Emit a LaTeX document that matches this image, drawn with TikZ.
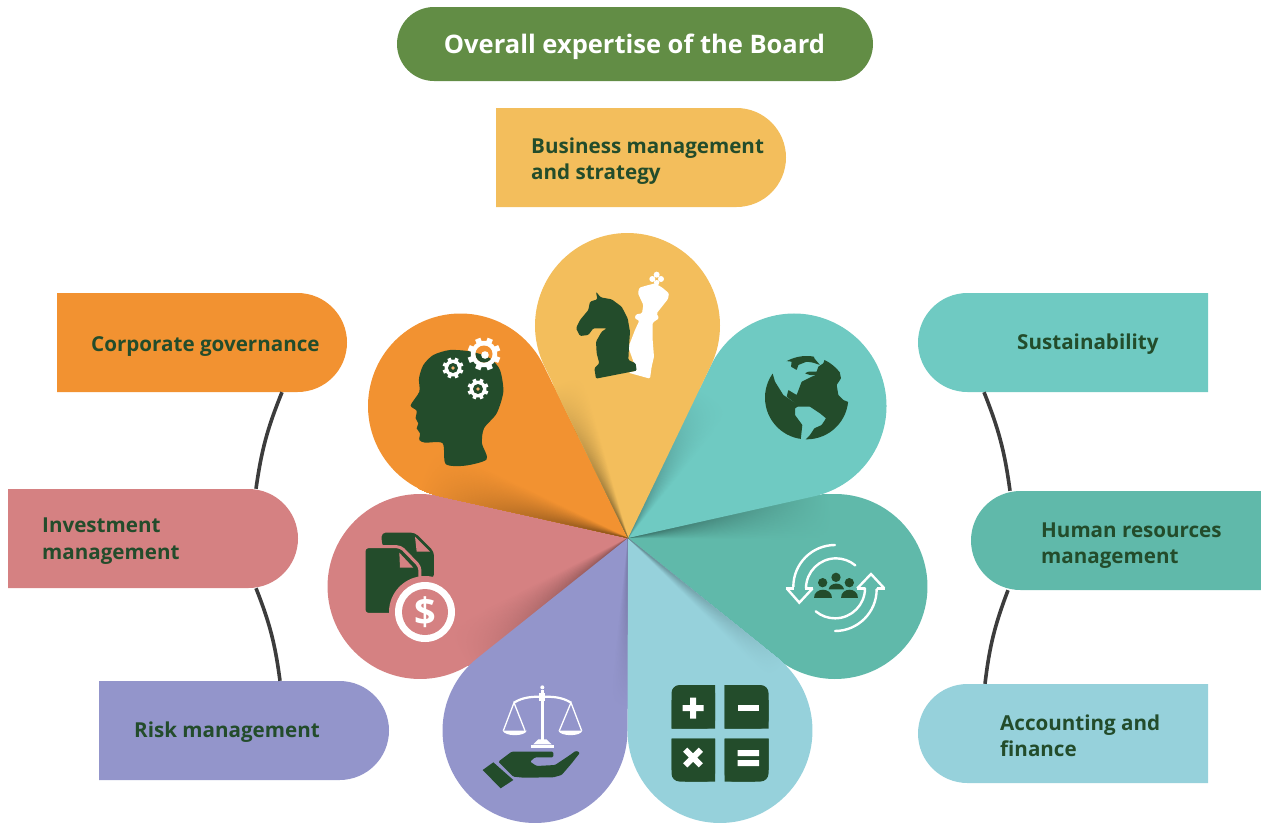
\documentclass[tikz,border=0pt]{standalone}
\usepackage{fontspec}
\setmainfont{Open Sans}
\usetikzlibrary{calc,shapes.misc}
\definecolor{cgreen}{HTML}{628D45}
\definecolor{cdark}{HTML}{234C2B}
\definecolor{corange}{HTML}{F29231}
\definecolor{cyellow}{HTML}{F3BE5C}
\definecolor{cteal}{HTML}{6FCAC2}
\definecolor{cdteal}{HTML}{60B9AA}
\definecolor{cblue}{HTML}{96D1DB}
\definecolor{cpurple}{HTML}{9395CB}
\definecolor{cpink}{HTML}{D58182}
\definecolor{cline}{HTML}{3C3C3C}
\tikzset{
  boxbase/.style={rounded rectangle,minimum width=290pt,minimum height=99pt,inner sep=0pt,draw=none},
  boxR/.style={boxbase,rounded rectangle west arc=none},
  boxL/.style={boxbase,rounded rectangle east arc=none},
  lab/.style={anchor=west,align=left,text=cdark,inner sep=0pt,font=\fontsize{20.6}{26.3}\selectfont\bfseries},
  conn/.style={draw=cline,line width=3.6pt},
  icon/.style 2 args={shift={(#1,#2)},x=0.3333pt,y=-0.3333pt},
  dk/.style={fill=cdark,rounded corners=1.2pt},
  dkg/.style={fill=cdark,rounded corners=0.5pt},
  wh/.style={fill=white,rounded corners=1.2pt},
}
% #1,#2 circle centre; #3 colour; #4 shadow angle; #5 shadow length; #6 darkness
\newcommand\petal[6]{%
  \pgfmathsetmacro\pa{atan2(#2-538,#1-628)}%
  \pgfmathsetmacro\pd{veclen(#1-628,#2-538)}%
  \pgfmathsetmacro\pb{asin(92.5/\pd)}%
  \pgfmathsetmacro\pl{\pd*cos(\pb)}%
  \pgfmathsetmacro\pe{\pa-\pb}%
  \pgfmathsetmacro\pf{\pa+\pb}%
  \fill[#3] (apex) -- ++(\pe:\pl) arc[start angle=\pe-90,end angle=\pf+90,radius=92.5] -- cycle;
  \begin{scope}
    \clip (apex) -- ++(\pe:\pl) arc[start angle=\pe-90,end angle=\pf+90,radius=92.5] -- cycle;
    \foreach \k in {20,19,...,1}{%
      \pgfmathsetmacro\ww{\pe+#4*\k/20}%
      \pgfmathsetmacro\mm{#6*(1-(\k-1)/20)}%
      \begin{scope}
        \clip (apex) -- ($(apex)+(\pe-1:500)$) -- ($(apex)+(\ww:500)$) -- cycle;
        \shade[inner color=black!\mm!#3,outer color=#3] (apex) circle[radius=#5];
      \end{scope}
    }
  \end{scope}
}
\newcommand\gearshape[3]{%
  \foreach \g in {0,45,...,315}{\fill[white,shift={(#1,#2)},rotate=\g+22.5] (-#3*0.17,0) rectangle (#3*0.17,#3);}
  \fill[white] (#1,#2) circle[radius=#3*0.8];
}
\begin{document}
\begin{tikzpicture}[x=1pt,y=-1pt]
\useasboundingbox (0,0) rectangle (1261,823);
\coordinate (apex) at (628,538);
% petals
\petal{420}{586.5}{cpink}{12}{205}{35}
\petal{835}{586.5}{cdteal}{13}{205}{40}
\petal{535}{730.5}{cpurple}{6}{170}{22}
\petal{720}{730.5}{cblue}{6}{200}{35}
\petal{460.5}{406}{corange}{13}{215}{45}
\petal{794}{406}{cteal}{13}{165}{30}
\petal{627.5}{325.5}{cyellow}{10}{170}{45}
% boxes
\node[boxbase,minimum width=476pt,minimum height=74pt,fill=cgreen] (board) at (635,44) {};
\node[boxR,fill=cyellow] (bizbox) at (641,157.5) {};
\node[boxR,fill=corange] (corpbox) at (202,342.5) {};
\node[boxR,fill=cpink] (invbox) at (153,538.5) {};
\node[boxR,fill=cpurple] (riskbox) at (244,730.5) {};
\node[boxL,fill=cteal] (susbox) at (1063,342.5) {};
\node[boxL,fill=cdteal] (hrbox) at (1116,540.5) {};
\node[boxL,fill=cblue] (accbox) at (1063,733.5) {};
% labels
\node[anchor=center,text=white,inner sep=0pt,font=\fontsize{25.5}{30}\selectfont\bfseries] (boardt) at (634.5,47) {Overall expertise of the Board};
\node[lab] (bizt) at (531,161) {Business management\\and strategy};
\node[lab] (corpt) at (91,347) {Corporate governance};
\node[lab] (invt) at (42,541) {Investment\\management};
\node[lab] (riskt) at (134,732) {Risk management};
\node[lab] (sust) at (1017,344) {Sustainability};
\node[lab] (hrt) at (1041,545.5) {Human resources\\management};
\node[lab] (acct) at (1000,735.5) {Accounting and\\finance};
% connectors
\draw[conn] ($(corpbox.south)+(80,0)$) to[bend right=7] ($(invbox.north)+(103,0)$);
\draw[conn] ($(invbox.south)+(103,0)$) to[bend left=7] ($(riskbox.north)+(36,0)$);
\draw[conn] ($(susbox.south)+(-79,0)$) to[bend left=7] ($(hrbox.north)+(-106,0)$);
\draw[conn] ($(hrbox.south)+(-108,0)$) to[bend right=7] ($(accbox.north)+(-78,0)$);
% head icon
\begin{scope}[icon={400}{320}]
  \fill[cdark] plot[smooth cycle,tension=0.45] coordinates {(137,432)(195,437)(260,418)(246,370)(252,325)(290,280)(310,215)(300,150)(270,115)(215,95)(150,90)(100,105)(70,135)(57,175)(58,215)(32,256)(50,272)(47,295)(55,310)(50,325)(60,340)(58,360)(75,368)(128,370)};
\end{scope}
\gearshape{484}{354}{16.5}
\fill[corange] (484,354) circle[radius=8.5];
\begin{scope}
  \clip[icon={400}{320}] plot[smooth cycle,tension=0.45] coordinates {(137,432)(195,437)(260,418)(246,370)(252,325)(290,280)(310,215)(300,150)(270,115)(215,95)(150,90)(100,105)(70,135)(57,175)(58,215)(32,256)(50,272)(47,295)(55,310)(50,325)(60,340)(58,360)(75,368)(128,370)};
  \fill[cdark] (484,354) circle[radius=8.5];
\end{scope}
\fill[white] (485,355) circle[radius=3.8];
\gearshape{453}{368}{10.5}
\fill[cdark] (453,368) circle[radius=5];
\fill[corange!70!white] (453,368) circle[radius=1.8];
\gearshape{478}{389}{10.5}
\fill[cdark] (478,389) circle[radius=5];
\fill[corange!70!white] (478,389) circle[radius=1.8];
% chess
\begin{scope}[icon={560}{260}]
  \fill[wh] (270,356) -- (205,338) -- (230,332) -- (205,262) -- (225,210) -- (238,182) -- (224,175) -- (228,163) -- (246,160) -- (250,135) -- (234,100) -- (238,83) -- (262,76) -- (285,70) -- (307,83) -- (327,100) -- (324,117) -- (290,160) -- (297,175) -- (278,188) -- (278,240) -- (282,290) -- (275,320) -- cycle;
  \fill[white] (290,44) circle[radius=9] (277,57) circle[radius=9] (303,57) circle[radius=9] (290,68) circle[radius=8];
  \fill[dk] (108,95) -- (122,112) -- (155,118) -- (185,140) -- (203,175) -- (210,215) -- (207,260) -- (205,300) -- (227,310) -- (230,332) -- (108,356) -- (103,325) -- (118,310) -- (110,280) -- (108,245) -- (125,215) -- (140,205) -- (100,205) -- (85,225) -- (60,228) -- (48,205) -- (60,180) -- (85,150) -- (90,125) -- (112,118) -- cycle;
\end{scope}
% globe
\begin{scope}[icon={755}{340}]
  \clip (155,173) circle[radius=125];
  \fill[dkg] (50,90) -- (20,180) -- (60,290) -- (137,300) -- (142,255) -- (120,225) -- (120,205) -- (133,197) -- (100,175) -- (85,165) -- (60,125) -- cycle;
  \fill[dkg] (150,300) -- (290,300) -- (290,190) -- (265,180) -- (250,165) -- (245,135) -- (258,115) -- (255,100) -- (272,85) -- (250,65) -- (230,50) -- (210,55) -- (205,70) -- (190,80) -- (185,95) -- (160,95) -- (150,100) -- (165,105) -- (185,105) -- (170,110) -- (140,125) -- (125,165) -- (100,150) -- (95,170) -- (115,185) -- (130,200) -- (165,200) -- (195,220) -- (213,235) -- (200,255) -- (178,265) -- (165,285) -- cycle;
  \fill[dkg] (85,62) -- (110,55) -- (125,40) -- (160,30) -- (175,35) -- (178,55) -- (195,75) -- (175,68) -- (155,65) -- (130,75) -- (125,90) -- (108,80) -- (110,65) -- cycle;
\end{scope}
% documents
\begin{scope}[icon={350}{520}]
  \fill[cdark,rounded corners=4pt] (95,70) -- (95,38) -- (195,38) -- (252,95) -- (252,175) -- (150,175) -- cycle;
  \fill[cpink] (195,50) -- (240,95) -- (200,95) -- cycle;
  \draw[cpink,line width=3pt,fill=cdark,rounded corners=4pt] (42,80) -- (152,80) -- (210,140) -- (210,283) -- (42,283) -- cycle;
  \fill[cpink] (148,98) -- (190,143) -- (150,143) -- cycle;
\end{scope}
\fill[cpink] (425,612) circle[radius=36];
\fill[white] (425,612) circle[radius=30];
\fill[cpink] (425,612) circle[radius=23];
\node[text=white,inner sep=0pt,font=\fontsize{38}{38}\selectfont\bfseries] (dollar) at (425,612) {\$};
% scales and hand
\begin{scope}[icon={470}{680}]
  \fill[white] (212,30) rectangle (222,182);
  \fill[white] (217,22) circle[radius=6];
  \fill[white] (208,38) rectangle (226,62);
  \draw[white,line width=2.2pt] (132,68) .. controls (160,50) and (190,50) .. (217,50) .. controls (245,50) and (275,50) .. (303,68);
  \draw[white,line width=1.3pt] (100,152) -- (132,68) -- (165,152);
  \draw[white,line width=1.3pt] (268,152) -- (303,68) -- (335,152);
  \fill[white] (98,152) -- (170,152) .. controls (165,170) and (105,170) .. cycle;
  \fill[white] (265,152) -- (337,152) .. controls (332,170) and (272,170) .. cycle;
  \fill[white] (205,178) -- (229,178) -- (245,193) -- (190,193) -- cycle;
  \fill[white] (183,196) rectangle (252,205);
  \fill[dk] (85,245) -- (125,215) -- (250,215) -- (250,232) -- (195,232) -- (180,245) -- (200,258) -- (255,255) -- (300,225) -- (318,212) -- (330,218) -- (305,250) -- (275,285) -- (250,292) -- (160,293) -- (130,290) -- cycle;
  \fill[cdark] (38,270) -- (70,247) -- (130,300) -- (92,325) -- cycle;
\end{scope}
% calculator
\fill[cdark,rounded corners=8pt] (671.5,728.5) -- (671.5,685) -- (715,685) -- (715,728.5) [sharp corners] -- cycle;
\fill[cdark] (680,685) rectangle (715,728.5) (671.5,700) rectangle (715,728.5);
\fill[cdark,rounded corners=8pt] (724.5,685) -- (768.5,685) -- (768.5,728.5) [sharp corners] -- (724.5,728.5) -- cycle;
\fill[cdark] (724.5,685) rectangle (755,728.5) (724.5,700) rectangle (768.5,728.5);
\fill[cdark,rounded corners=8pt] (671.5,738.5) -- (671.5,781.5) -- (715,781.5) [sharp corners] -- (715,738.5) -- cycle;
\fill[cdark] (671.5,738.5) rectangle (715,770) (685,738.5) rectangle (715,781.5);
\fill[cdark,rounded corners=8pt] (768.5,738.5) -- (768.5,781.5) -- (724.5,781.5) [sharp corners] -- (724.5,738.5) -- cycle;
\fill[cdark] (724.5,738.5) rectangle (768.5,770) (724.5,738.5) rectangle (755,781.5);
\fill[white] (682.5,705) rectangle (703.5,711) (690,697.5) rectangle (696,718.5);
\fill[white] (737.5,705) rectangle (759,711);
\fill[white,shift={(693,757.5)},rotate=45] (-11,-3) rectangle (11,3) (-3,-11) rectangle (3,11);
\fill[white] (737.5,750) rectangle (759,756) (737.5,760) rectangle (759,766);
% refresh and people
\begin{scope}[icon={770}{530}]
  \draw[white,line width=2.4pt] (50,175) -- (88,218) -- (128,175);
  \draw[white,line width=2.4pt] (262,175) -- (303,132) -- (343,175);
  \draw[white,line width=2.4pt] (47,175) -- (72,175) (104,175) -- (130,175);
  \draw[white,line width=2.4pt] (260,175) -- (285,175) (320,175) -- (345,175);
  \draw[white,line width=2.4pt,line cap=round] (195,45) arc[start angle=270,end angle=180,radius=125];
  \draw[white,line width=2.4pt,line cap=round] (195,303) arc[start angle=90,end angle=0,radius=125];
  \draw[white,line width=2.4pt,line cap=round] (108,175) arc[start angle=180,end angle=310,radius=90];
  \draw[white,line width=2.4pt,line cap=round] (285,175) arc[start angle=0,end angle=130,radius=90];
  \fill[cdark] (158,158) circle[radius=14] (238,158) circle[radius=14] (198,142) circle[radius=14];
  \fill[cdark] (133,204) .. controls (133,172) and (185,172) .. (185,204) -- cycle;
  \fill[cdark] (213,204) .. controls (213,172) and (265,172) .. (265,204) -- cycle;
  \fill[cdark] (176,178) .. controls (180,155) and (218,155) .. (222,178) -- cycle;
\end{scope}
\end{tikzpicture}
\end{document}
